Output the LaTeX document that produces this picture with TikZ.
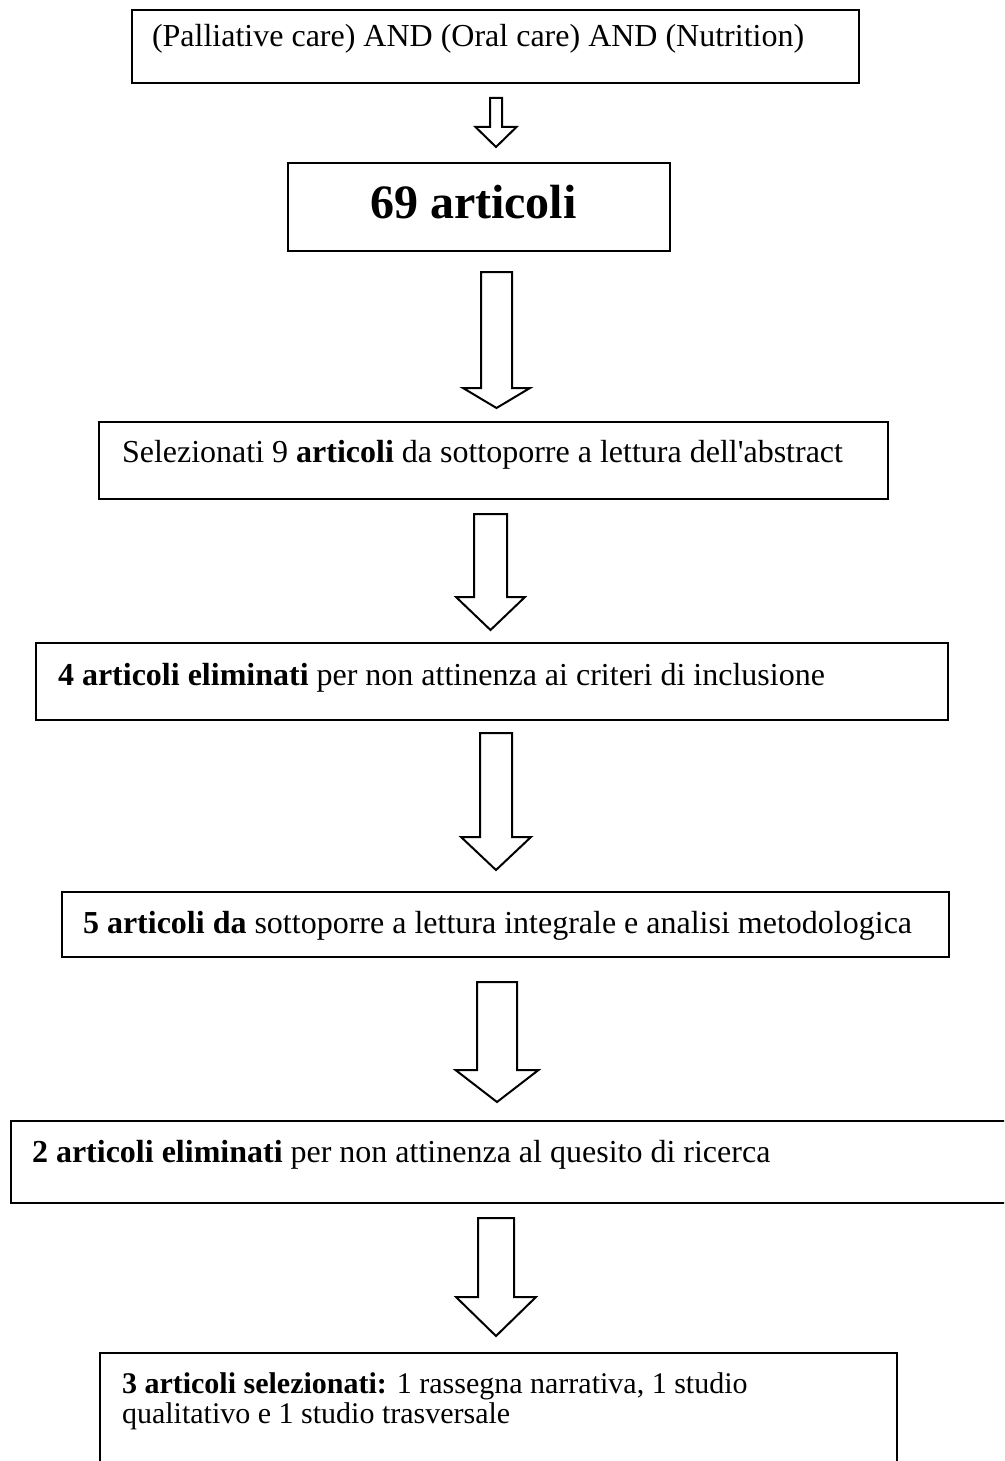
\documentclass[tikz,border=0pt]{standalone}
\usepackage{fontspec}
\setmainfont{Liberation Serif}
\usetikzlibrary{calc}
\tikzset{
  box/.style={draw, line width=2.7pt, anchor=north west, inner sep=0pt, outer sep=0pt},
  txt/.style={anchor=base west, inner sep=0pt, outer sep=0pt, font=\fontsize{32}{37}\selectfont},
  smalltxt/.style={anchor=base west, inner sep=0pt, outer sep=0pt, font=\fontsize{30}{35}\selectfont},
  bigtxt/.style={anchor=base west, inner sep=0pt, outer sep=0pt, font=\fontsize{48}{54}\selectfont\bfseries},
  blockarr/.style={draw, line width=2pt, fill=white, line join=miter},
}
% #1 start coordinate, #2 half shaft width, #3 half head width, #4 head base offset, #5 tip offset
\newcommand\BlockArrow[5]{%
  \draw[blockarr] ($(#1)+(-#2,0)$) -- ($(#1)+(-#2,#4)$) -- ($(#1)+(-#3,#4)$) -- ($(#1)+(0,#5)$)
    -- ($(#1)+(#3,#4)$) -- ($(#1)+(#2,#4)$) -- ($(#1)+(#2,0)$) -- cycle;}
\begin{document}
\begin{tikzpicture}[x=1pt,y=-1pt]
\clip (0,0) rectangle (1004,1461);
\fill[white] (0,0) rectangle (1004,1461);

% boxes
\node[box, minimum width=727pt, minimum height=73pt] (b1) at (132,10) {};
\node[box, minimum width=382pt, minimum height=88pt] (b2) at (288,163) {};
\node[box, minimum width=789pt, minimum height=77pt] (b3) at (99,422) {};
\node[box, minimum width=912pt, minimum height=77pt] (b4) at (36,643) {};
\node[box, minimum width=887pt, minimum height=65pt] (b5) at (62,892) {};
\node[box, minimum width=1010pt, minimum height=82pt] (b6) at (11,1121) {};
\node[box, minimum width=797pt, minimum height=130pt] (b7) at (100,1353) {};

% texts
\node[txt] (t1) at (152,47) {(Palliative care) AND (Oral care) AND (Nutrition)};
\node[bigtxt] (t2) at (370,218) {69 articoli};
\node[txt] (t3) at (122,462) {Selezionati 9 \textbf{articoli} da sottoporre a lettura dell\textquotesingle abstract};
\node[txt] (t4) at (58,685) {\textbf{4 articoli eliminati} per non attinenza ai criteri di inclusione};
\node[txt] (t5) at (83,933) {\textbf{5 articoli da} sottoporre a lettura integrale e analisi metodologica};
\node[txt] (t6) at (32,1162) {\textbf{2 articoli eliminati} per non attinenza al quesito di ricerca};
\node[smalltxt] (t7a) at (122,1393) {\textbf{3 articoli selezionati:} 1 rassegna narrativa, 1 studio};
\node[smalltxt] (t7b) at (122,1423) {qualitativo e 1 studio trasversale};

% block arrows
\coordinate (a1) at (496,98);
\coordinate (a2) at (496.5,272);
\coordinate (a3) at (490.5,514);
\coordinate (a4) at (496,733);
\coordinate (a5) at (497,982);
\coordinate (a6) at (496,1218);
\BlockArrow{a1}{6}{20.5}{29}{49}
\BlockArrow{a2}{15.5}{33.5}{116}{136}
\BlockArrow{a3}{16.5}{34.5}{83}{116}
\BlockArrow{a4}{16}{35}{104}{137}
\BlockArrow{a5}{20}{41.5}{88}{120}
\BlockArrow{a6}{18}{40}{79}{118}
\end{tikzpicture}
\end{document}
